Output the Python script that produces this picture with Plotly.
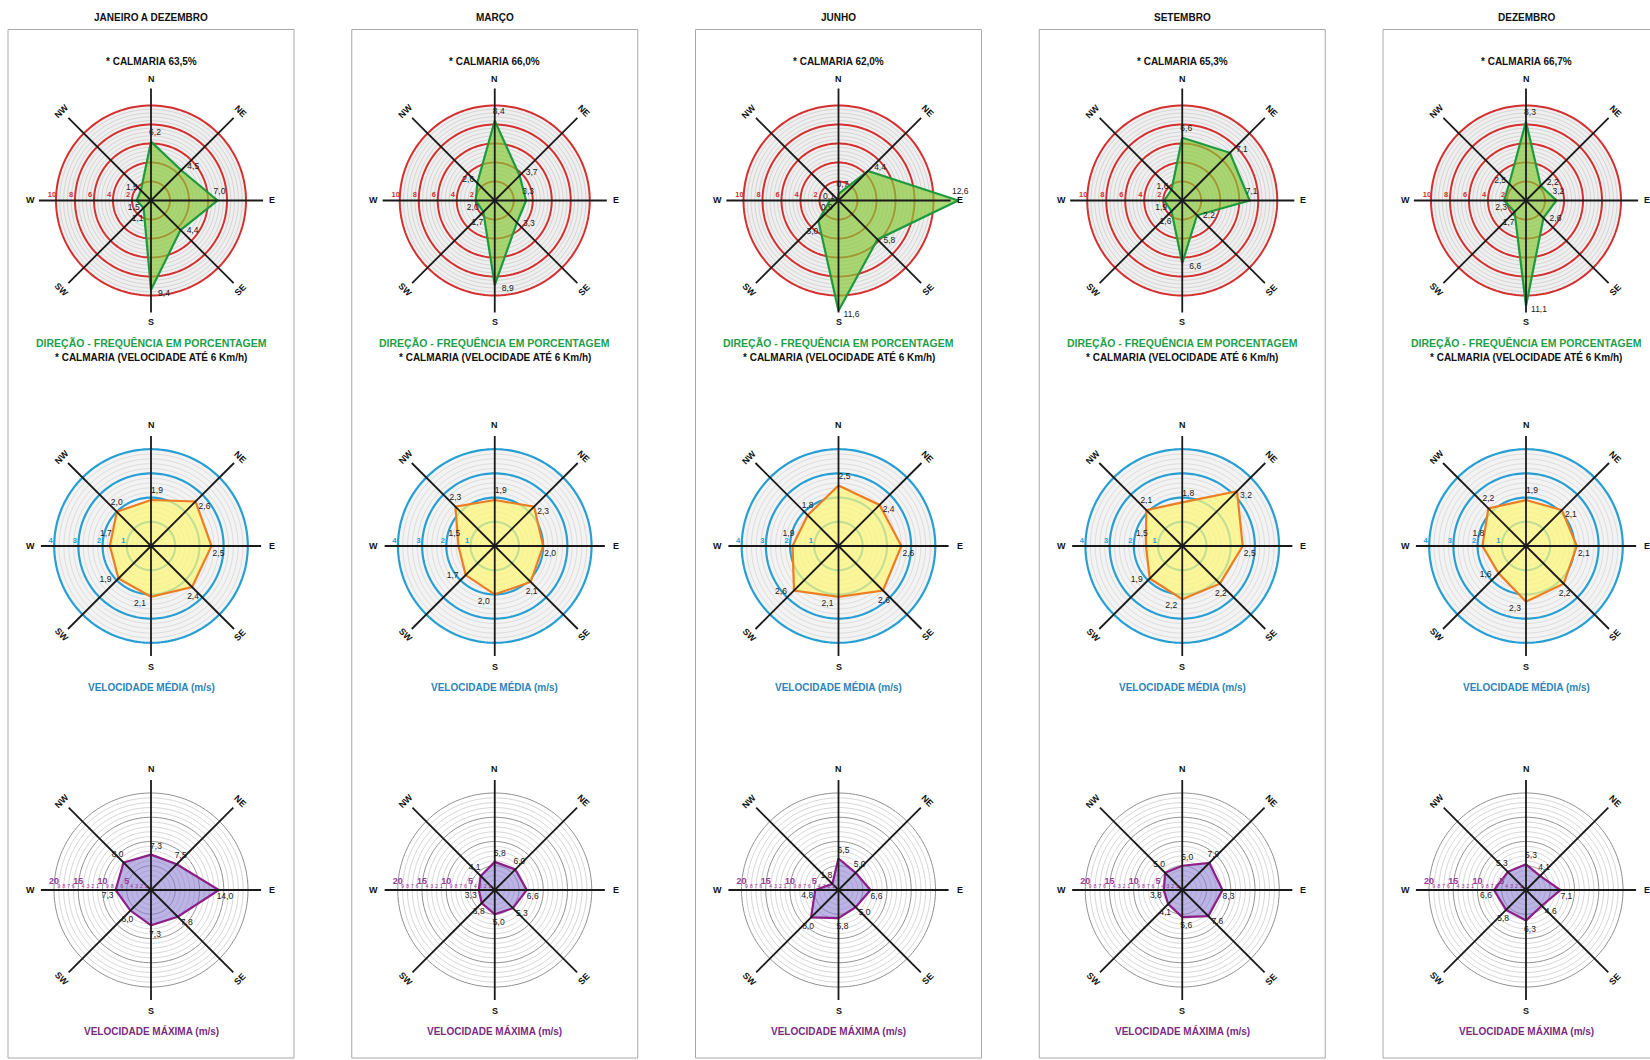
import math
import plotly.graph_objects as go

# ---------------------------------------------------------------- data
W, H = 1650, 1060

DIRECOES = ["N", "NE", "E", "SE", "S", "SW", "W", "NW"]
ANGULOS = [0, 45, 90, 135, 180, 225, 270, 315]

PERIODOS = ["JANEIRO A DEZEMBRO", "MARÇO", "JUNHO", "SETEMBRO", "DEZEMBRO"]
CALMARIA = [63.5, 66.0, 62.0, 65.3, 66.7]

# frequência por direção (%), ordem N, NE, E, SE, S, SW, W, NW
freq_anual = [6.2, 4.5, 7.0, 4.4, 9.4, 1.1, 1.5, 1.5]
freq_marco = [8.4, 3.7, 3.3, 3.3, 8.9, 1.7, 2.0, 2.6]
freq_junho = [0.7, 4.4, 12.6, 5.8, 11.6, 3.0, 0.9, 0.1]
freq_setembro = [6.6, 7.1, 7.1, 2.2, 6.6, 1.6, 1.9, 1.6]
freq_dezembro = [8.3, 2.2, 3.2, 2.6, 11.1, 1.7, 2.3, 2.5]

# velocidade média (m/s)
vmed_anual = [1.9, 2.6, 2.5, 2.4, 2.1, 1.9, 1.7, 2.0]
vmed_marco = [1.9, 2.3, 2.0, 2.1, 2.0, 1.7, 1.5, 2.3]
vmed_junho = [2.5, 2.4, 2.6, 2.6, 2.1, 2.6, 1.9, 1.8]
vmed_setembro = [1.8, 3.2, 2.5, 2.2, 2.2, 1.9, 1.5, 2.1]
vmed_dezembro = [1.9, 2.1, 2.1, 2.2, 2.3, 1.6, 1.8, 2.2]

# velocidade máxima (m/s)
vmax_anual = [7.3, 7.5, 14.0, 7.8, 7.3, 6.0, 7.3, 8.0]
vmax_marco = [5.8, 6.0, 6.6, 5.3, 5.0, 3.8, 3.3, 4.1]
vmax_junho = [6.5, 5.0, 6.6, 5.0, 5.8, 8.0, 4.8, 1.8]
vmax_setembro = [5.0, 7.9, 8.3, 7.6, 5.6, 4.1, 3.8, 5.0]
vmax_dezembro = [5.3, 4.1, 7.1, 4.6, 6.3, 5.8, 6.6, 5.3]

FREQ = [freq_anual, freq_marco, freq_junho, freq_setembro, freq_dezembro]
VMED = [vmed_anual, vmed_marco, vmed_junho, vmed_setembro, vmed_dezembro]
VMAX = [vmax_anual, vmax_marco, vmax_junho, vmax_setembro, vmax_dezembro]

# ---------------------------------------------------------------- style
FONT = "Liberation Sans, Arial, sans-serif"
COL_X0, COL_DX = 151.0, 343.75       # rose centres (px)
ROW_Y = [200.5, 546.0, 890.0]
HALF = 123.0                          # half size of each polar domain (px)

ROWS = [
    dict(data=FREQ, scale=9.5, rings=[2, 4, 6, 8, 10], ring_color="#d3302f", ring_w=2.0,
         fine=[i * 0.4 for i in range(1, 25) if i % 5], fine_color="#c8c8c8",
         disk=10, disk_color="#efefef",
         fill="rgba(135,202,55,0.68)", line="#1d9a3e",
         ax_card=11.8, ax_diag=12.3,
         ticks=[(10, "10"), (8, "8"), (6, "6"), (4, "4"), (2, "2")],
         tick_off=(-4, -5), tick_size=7.5, tick_color="#d3302f",
         # value-label offsets in px (dx, dy) from each vertex
         off=[(4, -9), (12, -3), (2, -9), (12, 1), (13, 4), (-6, 11), (-3, 7), (-9, -3)]),
    dict(data=VMED, scale=24.2, rings=[1, 2, 3, 4], ring_color="#279fd3", ring_w=2.2,
         fine=[i * 0.2 for i in range(1, 20) if i % 5], fine_color="#d2d2d2",
         disk=4, disk_color="#f3f3f3",
         fill="rgba(255,246,120,0.72)", line="#ec7d22",
         ax_card=4.55, ax_diag=4.85,
         ticks=[(4, "4"), (3, "3"), (2, "2"), (1, "1")],
         tick_off=(-3.5, -5), tick_size=7.5, tick_color="#279fd3",
         off=[(6, -9), (9, 5), (7, 8), (1, 10), (-11, 7), (-13, 1), (-4, -12), (0, -9)]),
    dict(data=VMAX, scale=4.85, rings=[5, 10, 15, 20], ring_color="#8f8f8f", ring_w=1.0,
         fine=[i for i in range(1, 20) if i % 5], fine_color="#c4c4c4",
         disk=20, disk_color="#ffffff",
         fill="rgba(125,112,205,0.52)", line="#8d1f86",
         ax_card=22.7, ax_diag=24.0,
         ticks=[(20, "20"), (15, "15"), (10, "10"), (5, "5")],
         tick_off=(0, -8), tick_size=9, tick_color="#9c3a99",
         off=[(5, -8), (4, -8), (6, 7), (9, 6), (4, 9), (-3, 9), (-8, 6), (-6, -8)]),
]

TITLES = [
    None,
    ("VELOCIDADE MÉDIA (m/s)", "#2c84b8", 687),
    ("VELOCIDADE MÁXIMA (m/s)", "#7b2c7e", 1031),
]


def fmt(v):
    return f"{v:.1f}".replace(".", ",")


def circle(r):
    th = list(range(0, 362, 2))
    return [r] * len(th), th


def px(x, y):
    return x / W, 1 - y / H


def shifted(v, a, dx, dy, s):
    """Polar position (r, theta) of a point dx/dy pixels away from (v, a)."""
    x = v * s * math.sin(math.radians(a)) + dx
    y = -v * s * math.cos(math.radians(a)) + dy
    r = math.hypot(x, y) / s
    th = math.degrees(math.atan2(x, -y)) % 360
    return r, th


def label(x, y, text, size, color, angle=0):
    ax_, ay_ = px(x, y)
    return dict(x=ax_, y=ay_, xref="paper", yref="paper", showarrow=False,
                xanchor="center", yanchor="middle", text=text, textangle=angle,
                font=dict(family=FONT, size=size, color=color))


def text_trace(sub, pts, texts, size, color, weight="normal"):
    return go.Scatterpolar(r=[p[0] for p in pts], theta=[p[1] for p in pts], subplot=sub,
                           mode="text", text=texts, textposition="middle center",
                           cliponaxis=False,
                           textfont=dict(family=FONT, size=size, color=color, weight=weight),
                           hoverinfo="skip", showlegend=False)


fig = go.Figure()
annotations = []
shapes = []
k = 0

for c in range(5):
    cx = COL_X0 + COL_DX * c

    # panel frame
    x0, y0 = px(cx - 143, 29.5)
    x1, y1 = px(cx + 143, 1058)
    shapes.append(dict(type="rect", xref="paper", yref="paper", x0=x0, x1=x1, y0=y1, y1=y0,
                       line=dict(color="#a8a8a8", width=1), fillcolor="rgba(0,0,0,0)"))

    # column texts
    annotations.append(label(cx, 17, f"<b>{PERIODOS[c]}</b>", 10, "#111111"))
    annotations.append(label(cx, 61, f"<b>* CALMARIA {fmt(CALMARIA[c])}%</b>", 10, "#111111"))
    annotations.append(label(cx, 343, "<b>DIREÇÃO - FREQUÊNCIA EM PORCENTAGEM</b>",
                             10.5, "#1f9f49"))
    annotations.append(label(cx, 357, "<b>* CALMARIA (VELOCIDADE ATÉ 6 Km/h)</b>",
                             10, "#111111"))

    for r_i, row in enumerate(ROWS):
        k += 1
        name = "polar" if k == 1 else f"polar{k}"
        cy = ROW_Y[r_i]
        s = row["scale"]
        rmax = HALF / s
        dx0, dy1 = px(cx - HALF, cy - HALF)
        dx1, dy0 = px(cx + HALF, cy + HALF)
        fig.update_layout({name: dict(
            domain=dict(x=[dx0, dx1], y=[dy0, dy1]),
            bgcolor="rgba(0,0,0,0)",
            radialaxis=dict(visible=False, range=[0, rmax]),
            angularaxis=dict(visible=False, rotation=90, direction="clockwise"),
        )})
        sub = name

        # background disk
        rr, th = circle(row["disk"])
        fig.add_trace(go.Scatterpolar(r=rr, theta=th, subplot=sub, mode="lines",
                                      fill="toself", fillcolor=row["disk_color"],
                                      line=dict(width=0, color=row["disk_color"]),
                                      hoverinfo="skip", showlegend=False))
        # fine rings
        rr_all, th_all = [], []
        for v in row["fine"]:
            rr, th = circle(v)
            rr_all += rr + [None]
            th_all += th + [None]
        fig.add_trace(go.Scatterpolar(r=rr_all, theta=th_all, subplot=sub, mode="lines",
                                      line=dict(width=0.7, color=row["fine_color"]),
                                      hoverinfo="skip", showlegend=False))
        # main rings
        rr_all, th_all = [], []
        for v in row["rings"]:
            rr, th = circle(v)
            rr_all += rr + [None]
            th_all += th + [None]
        fig.add_trace(go.Scatterpolar(r=rr_all, theta=th_all, subplot=sub, mode="lines",
                                      line=dict(width=row["ring_w"], color=row["ring_color"]),
                                      hoverinfo="skip", showlegend=False))
        # data polygon
        vals = row["data"][c]
        fig.add_trace(go.Scatterpolar(r=vals + [vals[0]], theta=ANGULOS + [ANGULOS[0]],
                                      subplot=sub, mode="lines", fill="toself",
                                      fillcolor=row["fill"],
                                      line=dict(width=2.2, color=row["line"]),
                                      hoverinfo="skip", showlegend=False))
        # compass axes
        rr_all, th_all = [], []
        for a in ANGULOS:
            L = row["ax_card"] if a % 90 == 0 else row["ax_diag"]
            rr_all += [0, L, None]
            th_all += [a, a, None]
        fig.add_trace(go.Scatterpolar(r=rr_all, theta=th_all, subplot=sub, mode="lines",
                                      line=dict(width=1.8, color="#1a1a1a"),
                                      hoverinfo="skip", showlegend=False))
        # radial scale labels on the W axis
        tdx, tdy = row["tick_off"]
        pts = [shifted(v, 270, tdx, tdy, s) for v, _ in row["ticks"]]
        fig.add_trace(text_trace(sub, pts, [t for _, t in row["ticks"]],
                                 row["tick_size"], row["tick_color"], "bold"))
        if r_i == 2:
            minor = [i for i in range(1, 20) if i % 5]
            pts = [shifted(v, 270, 0, -3.5, s) for v in minor]
            fig.add_trace(text_trace(sub, pts, [str(i % 10) for i in minor],
                                     5.5, row["tick_color"]))
        # value labels (kept inside the radial range so none is dropped)
        pts = [shifted(v, a, dx, dy, s) for v, a, (dx, dy) in zip(vals, ANGULOS, row["off"])]
        pts = [(min(r, rmax * 0.995), t) for r, t in pts]
        fig.add_trace(text_trace(sub, pts, [fmt(v) for v in vals], 8.5, "#1a1a1a"))

        # compass letters
        for d, a in zip(DIRECOES, ANGULOS):
            dist = 121 if a % 90 == 0 else 126
            lx = cx + dist * math.sin(math.radians(a))
            ly = cy - dist * math.cos(math.radians(a))
            ang = 0
            if d in ("NE", "SW"):
                ang = 45
            elif d in ("NW", "SE"):
                ang = -45
            annotations.append(label(lx, ly, f"<b>{d}</b>", 9, "#111111", ang))

        if TITLES[r_i]:
            txt, col, yy = TITLES[r_i]
            annotations.append(label(cx, yy, f"<b>{txt}</b>", 10, col))

fig.update_layout(width=W, height=H, margin=dict(l=0, r=0, t=0, b=0),
                  paper_bgcolor="white", plot_bgcolor="white",
                  showlegend=False, annotations=annotations, shapes=shapes)

fig.write_html("out.html")
